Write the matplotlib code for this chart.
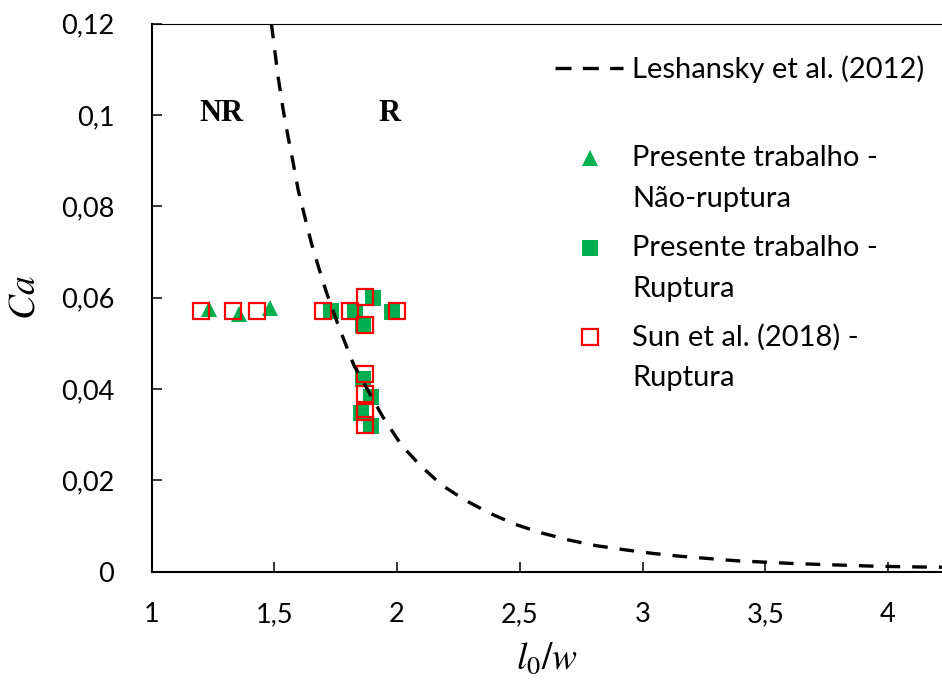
import matplotlib
matplotlib.use("Agg")
import matplotlib.pyplot as plt

# ---- data -------------------------------------------------------------
# Leshansky et al. (2012) critical-capillary curve, sampled points
lesh_x = [1.488, 1.515, 1.536, 1.556, 1.577, 1.597, 1.624, 1.651, 1.685,
          1.712, 1.760, 1.824, 1.943, 2.018, 2.092, 2.181, 2.276, 2.378,
          2.480, 2.588, 2.703, 2.812, 2.928, 3.043, 3.151, 3.266, 3.382,
          3.497, 3.612, 3.724, 3.836, 3.952, 4.060, 4.182, 4.220]
lesh_ca = [0.1200, 0.1084, 0.1011, 0.0952, 0.0894, 0.0836, 0.0777, 0.0719,
           0.0658, 0.0612, 0.0540, 0.0452, 0.0338, 0.0277, 0.0234, 0.0190,
           0.0157, 0.0128, 0.0104, 0.0085, 0.0069, 0.0057, 0.0048, 0.0040,
           0.0034, 0.0029, 0.0024, 0.0021, 0.0018, 0.0016, 0.0014, 0.0012,
           0.0011, 0.0010, 0.0010]

# Presente trabalho - Não-ruptura
nr_x = [1.235, 1.357, 1.483]
nr_ca = [0.0575, 0.0564, 0.0578]

# Presente trabalho - Ruptura
r_x = [1.731, 1.828, 1.900, 1.861, 1.978, 1.859, 1.894, 1.852, 1.894]
r_ca = [0.0571, 0.0569, 0.0600, 0.0540, 0.0568, 0.0423, 0.0383, 0.0347, 0.0319]

# Sun et al. (2018) - Ruptura
sun_x = [1.201, 1.331, 1.431, 1.700, 1.809, 1.870, 1.870, 1.999,
         1.870, 1.870, 1.870, 1.870]
sun_ca = [0.0572, 0.0572, 0.0572, 0.0572, 0.0572, 0.0601, 0.0541, 0.0572,
          0.0432, 0.0390, 0.0350, 0.0321]

x_ticks = [1, 1.5, 2, 2.5, 3, 3.5, 4]
x_tick_labels = ["1", "1,5", "2", "2,5", "3", "3,5", "4"]
y_ticks = [0, 0.02, 0.04, 0.06, 0.08, 0.10, 0.12]
y_tick_labels = ["0", "0,02", "0,04", "0,06", "0,08", "0,1", "0,12"]

legend_labels = ["Leshansky et al. (2012)",
                 "Presente trabalho -\nNão-ruptura",
                 "Presente trabalho -\nRuptura",
                 "Sun et al. (2018) -\nRuptura"]

# ---- style ------------------------------------------------------------
plt.rcParams["mathtext.fontset"] = "stix"
plt.rcParams["font.family"] = ["Lato", "DejaVu Sans"]

GREEN = "#00B050"
RED = "#FF0000"
W, H = 942, 682

fig = plt.figure(figsize=(W / 100, H / 100), dpi=100)
ax = fig.add_axes([0.161, 0.1617, 0.839, 0.8035])

dash = (0, (4.4, 3.6))

ax.plot(nr_x, nr_ca, linestyle="none", marker="^", markersize=12.2,
        color=GREEN, markeredgewidth=0, zorder=3)
ax.plot(r_x, r_ca, linestyle="none", marker="s", markersize=11.3,
        color=GREEN, markeredgewidth=0, zorder=4)
ax.plot(sun_x, sun_ca, linestyle="none", marker="s", markersize=11.0,
        markerfacecolor="none", markeredgecolor=RED, markeredgewidth=1.6,
        zorder=5)
ax.plot(lesh_x, lesh_ca, color="black", linewidth=2.4, linestyle=dash,
        dash_capstyle="butt", zorder=6)

ax.set_xlim(1, 4.22)
ax.set_ylim(0, 0.12)
ax.set_xticks(x_ticks)
ax.set_xticklabels(x_tick_labels)
ax.set_yticks(y_ticks)
ax.set_yticklabels(y_tick_labels)
ax.tick_params(axis="both", direction="in", length=7.2, width=1.1,
               labelsize=19.5, colors="black")
ax.tick_params(axis="x", pad=22)
ax.tick_params(axis="y", pad=27)

for side in ("left", "bottom"):
    ax.spines[side].set_linewidth(1.5)
ax.spines["top"].set_linewidth(0.8)
ax.spines["right"].set_visible(False)

ax.set_xlabel("$l_0/w$", fontsize=27)
ax.set_ylabel("$Ca$", fontsize=27)
ax.xaxis.set_label_coords(0.5, -0.125)
ax.yaxis.set_label_coords(-0.139, 0.5)

# region annotations
serif_bold = dict(family="Liberation Serif", fontweight="bold", fontsize=22,
                  ha="center", va="center")
ax.text(1.284, 0.1004, "NR", **serif_bold)
ax.text(1.970, 0.1004, "R", **serif_bold)

# ---- legend (one row per entry, handle level with the first text line) --
def fxy(px, py):
    return px / W, 1 - py / H

tf = fig.transFigure
hx = 589.5
lx, ly = fxy(555, 68.3)
rx, _ = fxy(623, 68.3)
ax.plot([lx, rx], [ly, ly], transform=tf, clip_on=False, color="black",
        linewidth=2.4, linestyle=(0, (4.8, 3.4)), dash_capstyle="butt")
mx, my = fxy(hx, 158)
ax.plot([mx], [my], transform=tf, clip_on=False, marker="^",
        markersize=12.2, color=GREEN, markeredgewidth=0, linestyle="none")
mx, my = fxy(hx, 248.3)
ax.plot([mx], [my], transform=tf, clip_on=False, marker="s",
        markersize=11.3, color=GREEN, markeredgewidth=0, linestyle="none")
mx, my = fxy(hx, 336.7)
ax.plot([mx], [my], transform=tf, clip_on=False, marker="s",
        markersize=11.0, markerfacecolor="none", markeredgecolor=RED,
        markeredgewidth=1.6, linestyle="none")

text_rows = [68.3, 158, 248.3, 336.7]
for label, ty in zip(legend_labels, text_rows):
    # top of the text box sits half a line above the handle row
    tx, tyf = fxy(632, ty - 13)
    fig.text(tx, tyf, label, fontsize=21, ha="left", va="top",
             linespacing=1.70, transform=tf)

fig.savefig("out.png", dpi=100)
